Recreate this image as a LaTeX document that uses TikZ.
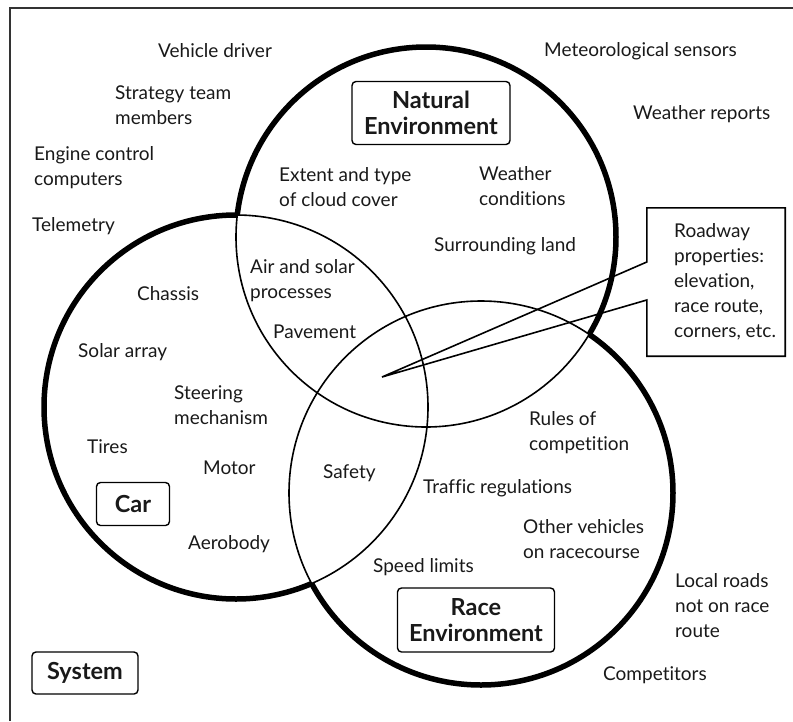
\documentclass[tikz,border=0pt]{standalone}
\usepackage{fontspec}
\setmainfont{Lato}[Ligatures=NoCommon]

\begin{document}
\begin{tikzpicture}[x=1pt,y=-1pt,
  txt/.style={anchor=west,inner sep=0pt,align=left,text=black!90,
    font=\fontsize{19}{25}\selectfont},
  lbl/.style={draw,rounded corners=4pt,line width=1.4pt,inner sep=0pt,
    align=center,text=black!90,font=\bfseries\fontsize{23.5}{26}\selectfont},
  thinring/.style={line width=1.6pt},
  outerring/.style={line width=5.5pt}]
  % 图片边界
  \useasboundingbox (0,0) rectangle (793,721);

  % 外框(只有上边和左边)
  \draw[line width=1.5pt,black!80] (10,721) -- (10,8) -- (793,8);

  % 三个圆的圆心
  \coordinate (nat) at (426,237);
  \coordinate (car) at (236,407);
  \coordinate (race) at (481,493);

  % 细线:整圆
  \foreach \c/\r in {nat/190, car/192, race/192}
    \draw[thinring] (\c) circle [radius=\r pt];

  % 粗线:只画在另外两个圆之外的部分
  \foreach \c/\r/\p/\pr/\q/\qr in {nat/190/car/192/race/192,
      car/192/nat/190/race/192, race/192/nat/190/car/192} {
    \begin{scope}[even odd rule]
      \clip (0,0) rectangle (793,721) (\p) circle [radius=\pr pt];
      \clip (0,0) rectangle (793,721) (\q) circle [radius=\qr pt];
      \draw[outerring] (\c) circle [radius=\r pt];
    \end{scope}
  }

  % 标题框
  \node[lbl,minimum width=158pt,minimum height=63pt] (natlbl) at (431,113) {Natural\\Environment};
  \node[lbl,minimum width=73pt,minimum height=43pt] (carlbl) at (133,504) {Car};
  \node[lbl,minimum width=106pt,minimum height=42pt] (syslbl) at (85,673) {System};
  \node[lbl,minimum width=157pt,minimum height=64pt] (racelbl) at (476,620) {Race\\Environment};

  % 系统中的其他元素
  \node[txt] (drv) at (158,51) {Vehicle driver};
  \node[txt] (strat) at (115,105) {Strategy team\\members};
  \node[txt] (ecu) at (34,168) {Engine control\\computers};
  \node[txt] (tele) at (32,226) {Telemetry};
  \node[txt] (meteo) at (544,51) {Meteorological sensors};
  \node[txt] (wrep) at (633,114) {Weather reports};
  \node[txt] (local) at (675,606) {Local roads\\not on race\\route};
  \node[txt] (comp) at (603,675) {Competitors};

  % 自然环境
  \node[txt] (cloud) at (279,187) {Extent and type\\of cloud cover};
  \node[txt] (wcond) at (479,186) {Weather\\conditions};
  \node[txt] (land) at (434,246) {Surrounding land};
  \node[txt] (air) at (250,281) {Air and solar\\processes};
  \node[txt] (pave) at (273,332) {Pavement};

  % 车
  \node[txt] (chassis) at (137,294) {Chassis};
  \node[txt] (solar) at (78,352) {Solar array};
  \node[txt] (steer) at (174,405) {Steering\\mechanism};
  \node[txt] (tires) at (87,447) {Tires};
  \node[txt] (motor) at (203,468) {Motor};
  \node[txt] (aero) at (188,544) {Aerobody};
  \node[txt] (safety) at (323,473) {Safety};

  % 比赛环境
  \node[txt] (rules) at (529,433) {Rules of\\competition};
  \node[txt] (traffic) at (423,488) {Traffic regulations};
  \node[txt] (other) at (523,539) {Other vehicles\\on racecourse};
  \node[txt] (speed) at (373,567) {Speed limits};

  % 道路属性的标注框
  \node[minimum width=138pt,minimum height=148pt,inner sep=0pt] (roadbox) at (716,282) {};
  \node[txt] (road) at (674,282) {Roadway\\properties:\\elevation,\\race route,\\corners, etc.};
  \coordinate (tip) at (382,377);
  \draw[line width=1.6pt] ([yshift=20pt]roadbox.west) -- (roadbox.north west)
    -- (roadbox.north east) -- (roadbox.south east) -- (roadbox.south west)
    -- ([yshift=-18pt]roadbox.west) -- (tip) -- cycle;
\end{tikzpicture}
\end{document}
